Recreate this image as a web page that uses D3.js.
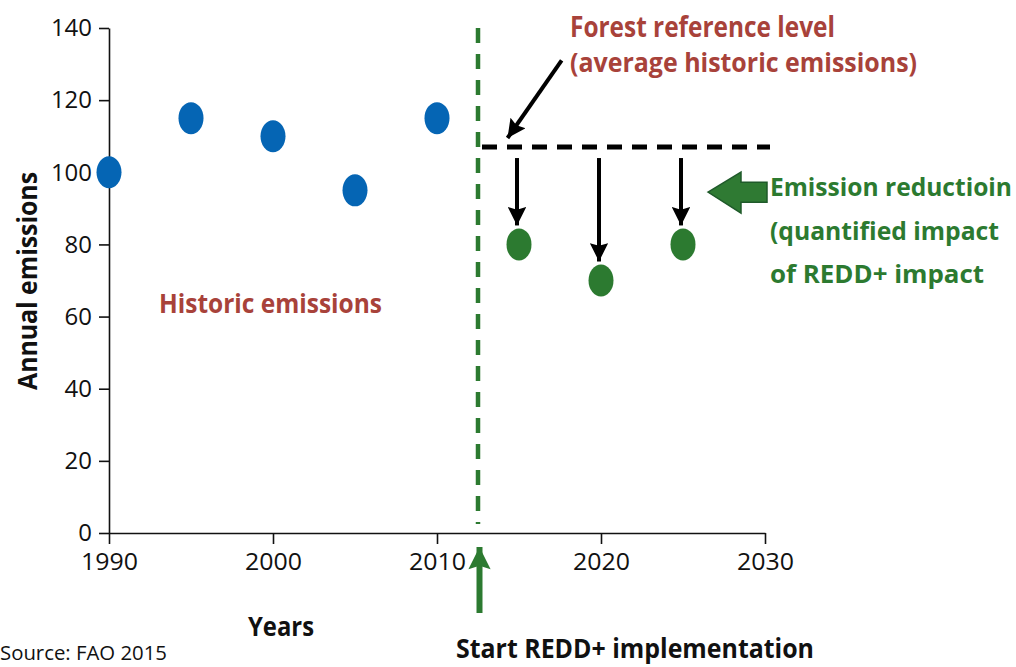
<!DOCTYPE html>
<html><head><meta charset="utf-8">
<script src="https://cdn.jsdelivr.net/npm/d3@7"></script>
<style>
html,body{margin:0;padding:0;background:#fff;}
svg{display:block;font-family:"Open Sans",Lato,sans-serif;}
</style></head>
<body>
<svg id="chart" width="1016" height="667"></svg>
<script>
// ---- data ----
const historicYears = [1990, 1995, 2000, 2005, 2010];
const historicValues = [100, 115, 110, 95, 115];
const projectedYears = [2015, 2020, 2025];
const projectedValues = [80, 70, 80];
const referenceLevel = 107;
const startYear = 2012.5;
const xTicks = [1990, 2000, 2010, 2020, 2030];
const yTicks = [0, 20, 40, 60, 80, 100, 120, 140];

const svg = d3.select("#chart");
const x = d3.scaleLinear().domain([1990, 2030]).range([109, 765]);
const y = d3.scaleLinear().domain([0, 140]).range([533, 28]);

const RED = "#a8423a", GREEN = "#2c7a30", BLUE = "#0565b4";
const FONT = "'Open Sans', Lato, sans-serif";

// defs: arrowheads
const defs = svg.append("defs");
defs.append("marker").attr("id","blackHead").attr("viewBox","0 0 10 10")
  .attr("refX",10).attr("refY",5).attr("markerWidth",6).attr("markerHeight",4.6)
  .attr("markerUnits","strokeWidth").attr("orient","auto")
  .append("path").attr("d","M0,0 L10,5 L0,10 L1.5,5 Z").attr("fill","#000");
defs.append("marker").attr("id","greenHead").attr("viewBox","0 0 10 10")
  .attr("refX",10).attr("refY",5).attr("markerWidth",5).attr("markerHeight",3.7)
  .attr("markerUnits","strokeWidth").attr("orient","auto")
  .append("path").attr("d","M0,0 L10,5 L0,10 L1.5,5 Z").attr("fill",GREEN);

// axes
const yAxis = svg.append("g").attr("transform",`translate(${x(1990)},0)`)
  .call(d3.axisLeft(y).tickValues(yTicks).tickSize(10).tickSizeOuter(0).tickPadding(7));
const xAxis = svg.append("g").attr("transform",`translate(0,${y(0)})`)
  .call(d3.axisBottom(x).tickValues(xTicks).tickFormat(d3.format("d")).tickSize(11).tickSizeOuter(0).tickPadding(9));
[yAxis, xAxis].forEach(g=>{
  g.select(".domain").attr("stroke","#111").attr("stroke-width",1.6);
  g.selectAll(".tick line").attr("stroke","#111").attr("stroke-width",1.6);
  g.selectAll(".tick text").attr("fill","#111").style("font-size","24.5px").style("font-family",FONT);
});
yAxis.selectAll(".tick text").attr("textLength", d => String(d).length * 13.7).attr("lengthAdjust","spacingAndGlyphs");
xAxis.selectAll(".tick text").attr("textLength", 57).attr("lengthAdjust","spacingAndGlyphs");

// start line (green dashed)
svg.append("line")
  .attr("x1",x(startYear)).attr("x2",x(startYear))
  .attr("y1",y(140)).attr("y2",y(0)-9)
  .attr("stroke",GREEN).attr("stroke-width",4.5).attr("stroke-dasharray","15,11");

// reference level (black dashed)
svg.append("line")
  .attr("x1",x(startYear)+4).attr("x2",x(2030)+5)
  .attr("y1",y(referenceLevel)).attr("y2",y(referenceLevel))
  .attr("stroke","#000").attr("stroke-width",5).attr("stroke-dasharray","15,10");

// reduction arrows
svg.append("g").selectAll("line").data(projectedYears).join("line")
  .attr("x1",d=>x(d)-2).attr("x2",d=>x(d)-2)
  .attr("y1",y(referenceLevel)+11)
  .attr("y2",(d,i)=>y(projectedValues[i])-19)
  .attr("stroke","#000").attr("stroke-width",4).attr("marker-end","url(#blackHead)");

// historic dots
svg.append("g").selectAll("ellipse").data(historicYears).join("ellipse")
  .attr("cx",d=>x(d)).attr("cy",(d,i)=>y(historicValues[i]))
  .attr("rx",12.5).attr("ry",16).attr("fill",BLUE);

// projected dots
svg.append("g").selectAll("ellipse").data(projectedYears).join("ellipse")
  .attr("cx",d=>x(d)).attr("cy",(d,i)=>y(projectedValues[i]))
  .attr("rx",12.5).attr("ry",16).attr("fill",GREEN);

// forest reference arrow
svg.append("line")
  .attr("x1",x(2017.6)).attr("y1",y(131))
  .attr("x2",x(2014.3)).attr("y2",y(109.5))
  .attr("stroke","#000").attr("stroke-width",4).attr("marker-end","url(#blackHead)");

// start implementation arrow (below axis)
svg.append("line")
  .attr("x1",x(startYear)+1.5).attr("x2",x(startYear)+1.5)
  .attr("y1",613).attr("y2",547)
  .attr("stroke",GREEN).attr("stroke-width",6).attr("marker-end","url(#greenHead)");

// big green left arrow
const ax = x(2025)+25, ay = y(94.5);
svg.append("path")
  .attr("d",`M${ax},${ay} L${ax+33},${ay-20} L${ax+33},${ay-10} L${ax+59},${ay-10} L${ax+59},${ay+10} L${ax+33},${ay+10} L${ax+33},${ay+21} Z`)
  .attr("fill","#2f7a33").attr("stroke","#1f5a2a").attr("stroke-width",1.5);

// texts
function txt(s, px, py, opts={}) {
  const t = svg.append("text").attr("x",px).attr("y",py).text(s)
    .attr("fill",opts.fill||"#111")
    .style("font-family",FONT)
    .style("font-size",(opts.size||24)+"px")
    .style("font-weight",opts.weight||"bold")
    .attr("text-anchor",opts.anchor||"start");
  if (opts.width) t.attr("textLength",opts.width).attr("lengthAdjust","spacingAndGlyphs");
  if (opts.rotate) t.attr("transform",`rotate(${opts.rotate},${px},${py})`);
  return t;
}
txt("Forest reference level", 570, 37, {fill:RED, size:28, width:265});
txt("(average historic emissions)", 570, 72, {fill:RED, size:27, width:347});
txt("Historic emissions", 159, 313, {fill:RED, size:27, width:223});
txt("Emission reductioin", 770, 196, {fill:GREEN, size:25, width:242});
txt("(quantified impact", 770, 240, {fill:GREEN, size:25, width:229});
txt("of REDD+ impact", 770, 283, {fill:GREEN, size:25, width:214});
txt("Annual emissions", 37, 281, {size:26, anchor:"middle", rotate:-90, width:218});
txt("Years", 281, 636, {size:27, anchor:"middle", width:66});
txt("Start REDD+ implementation", 635, 658, {size:26, anchor:"middle", width:358});
txt("Source: FAO 2015", 0, 660, {size:20, weight:"normal", width:167});
</script>
</body></html>
